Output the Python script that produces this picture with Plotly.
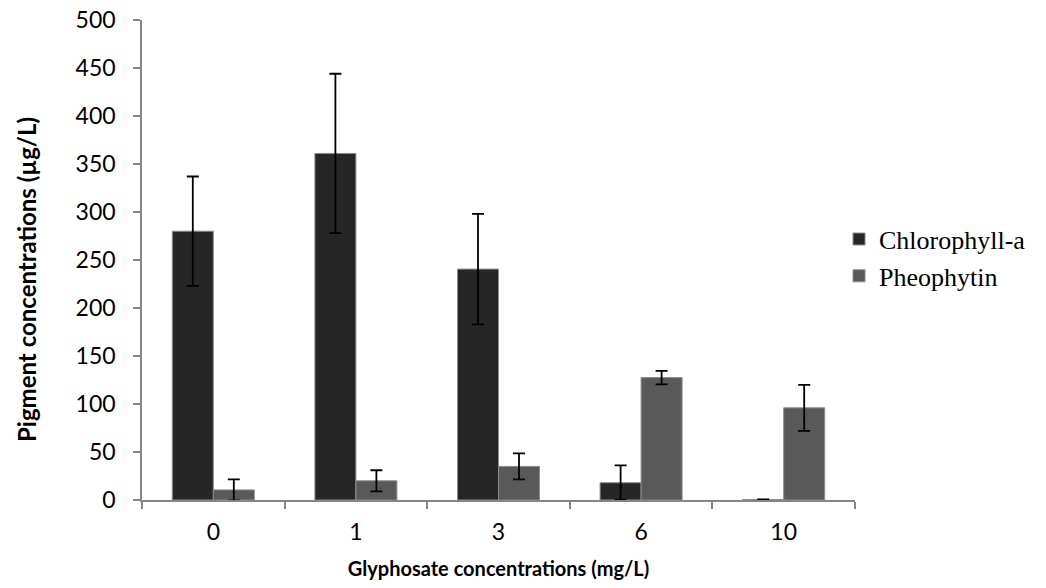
import plotly.graph_objects as go

categories = ["0", "1", "3", "6", "10"]
chlorophyll = [280, 361, 240.5, 18, 0.5]
chlorophyll_err = [57, 83, 57.5, 18, 0]
pheophytin = [10.5, 20, 35, 127.5, 96]
pheophytin_err = [11, 11, 13.5, 7, 24]
y_ticks = [0, 50, 100, 150, 200, 250, 300, 350, 400, 450, 500]

sans = "Lato, Open Sans, sans-serif"
tick_font = dict(family=sans, size=23, color="#000000")

fig = go.Figure()
fig.add_trace(go.Bar(
    x=categories, y=chlorophyll, name="Chlorophyll-a",
    marker=dict(color="#262626", line=dict(color="#8c8c8c", width=1)),
    error_y=dict(type="data", array=chlorophyll_err, visible=True,
                 color="#000000", thickness=1.8, width=6),
))
fig.add_trace(go.Bar(
    x=categories, y=pheophytin, name="Pheophytin",
    marker=dict(color="#595959", line=dict(color="#8c8c8c", width=1)),
    error_y=dict(type="data", array=pheophytin_err, visible=True,
                 color="#000000", thickness=1.8, width=6),
))

fig.update_layout(
    width=1046, height=588,
    margin=dict(l=142, r=191, t=20, b=88, autoexpand=False),
    paper_bgcolor="white", plot_bgcolor="white",
    barmode="group", bargap=0.425, bargroupgap=0,
    showlegend=True,
    legend=dict(x=0.9776, y=0.505, xanchor="left", yanchor="middle",
                font=dict(family="Liberation Serif, Times New Roman, serif", size=26, color="#000000"),
                itemwidth=30, bgcolor="rgba(0,0,0,0)"),
    xaxis=dict(
        type="category", showline=True, linecolor="#868686", linewidth=1.5,
        ticks="outside", tickson="boundaries", ticklen=7, tickcolor="#868686", tickwidth=1.5,
        tickfont=tick_font, showgrid=False, zeroline=False, ticklabelstandoff=11,
        automargin=False,
        title=dict(text="<b>Glyphosate concentrations (mg/L)</b>",
                   font=dict(family=sans, size=20, color="#000000"), standoff=18),
    ),
    yaxis=dict(
        range=[0, 500], tickvals=y_ticks, showline=True, linecolor="#868686", linewidth=1.5,
        ticks="outside", ticklen=7, tickcolor="#868686", tickwidth=1.5,
        tickfont=tick_font, showgrid=False, zeroline=False, ticklabelstandoff=13,
        automargin=False,
    ),
    annotations=[dict(
        text="<b>Pigment concentrations (µg/L)</b>", textangle=-90,
        xref="paper", yref="paper", x=(26 - 142) / 713, y=(500 - 280) / 480,
        xanchor="center", yanchor="middle", showarrow=False,
        font=dict(family=sans, size=24, color="#000000"),
    )],
)

fig.write_html("out.html")
